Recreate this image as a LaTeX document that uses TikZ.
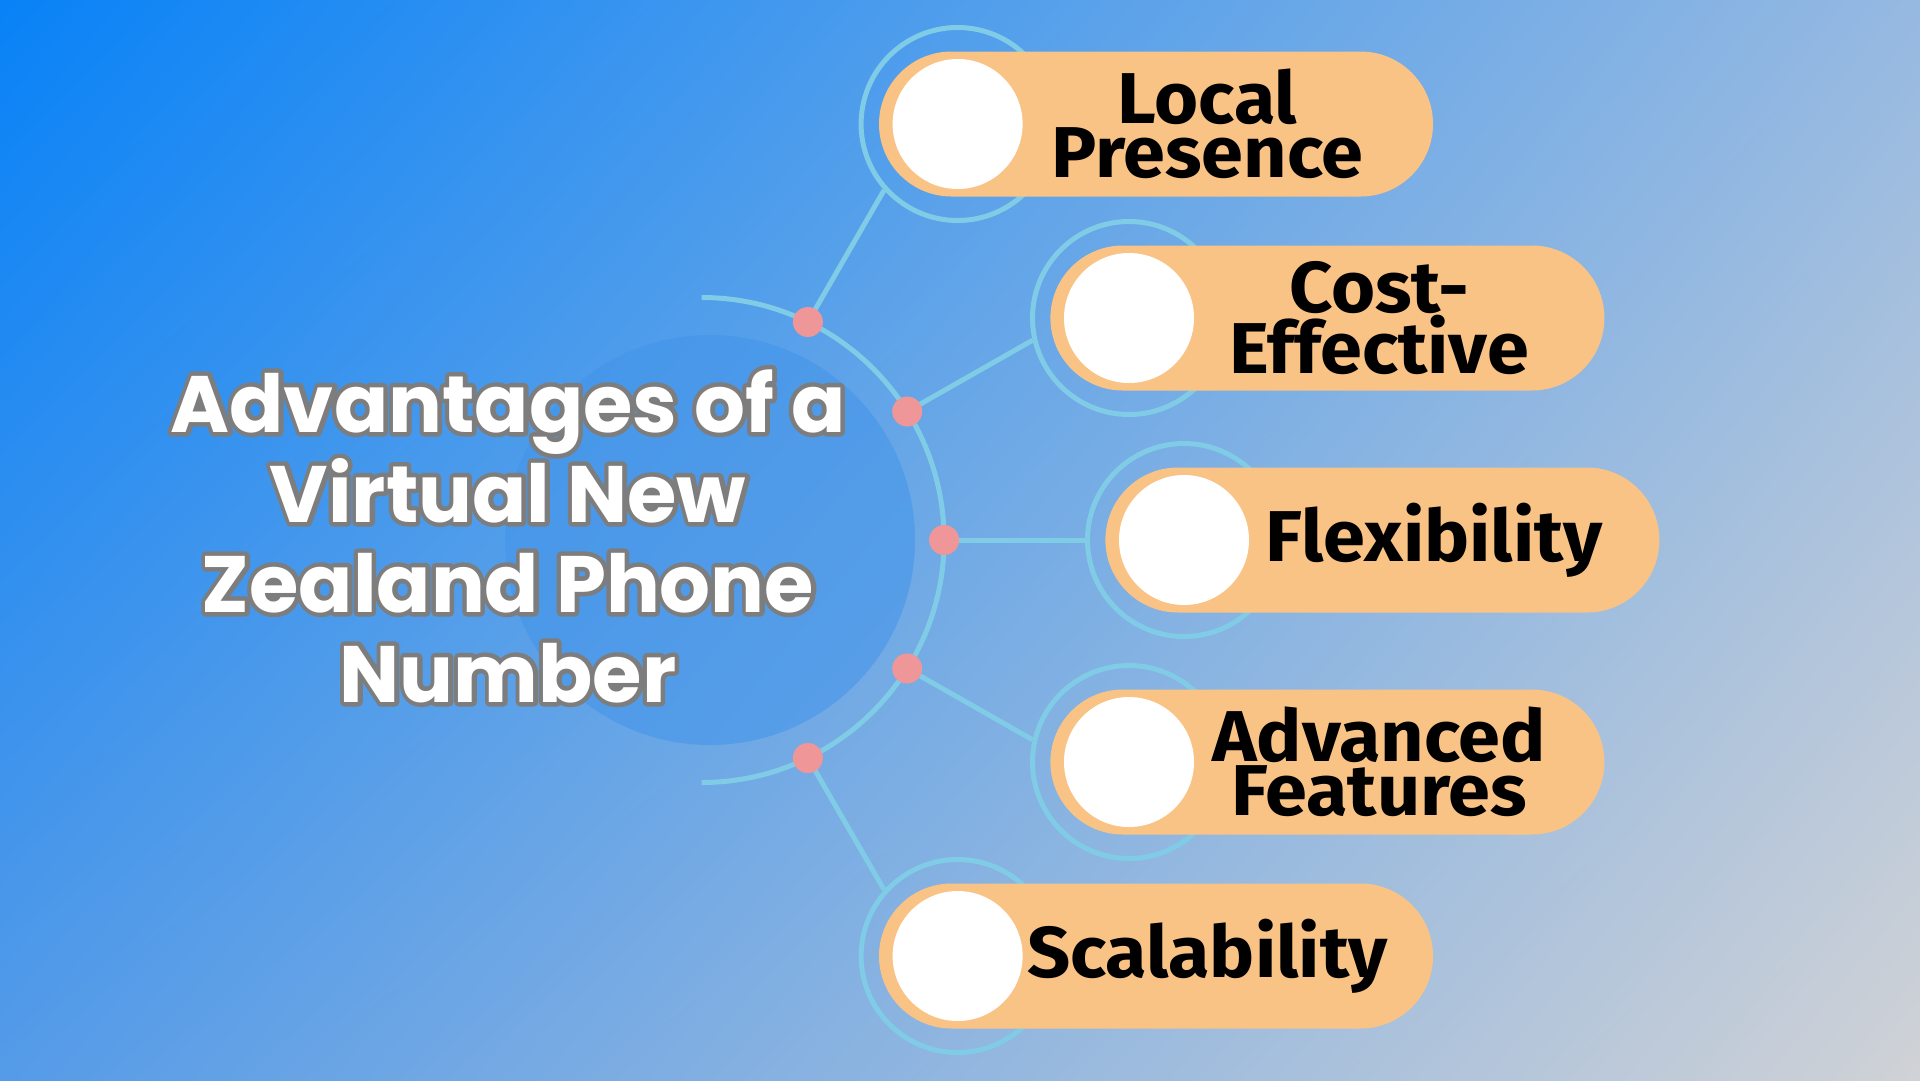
\documentclass[tikz,border=0pt]{standalone}
\usepackage{fontspec}
\usetikzlibrary{shadings}
\newfontfamily\titlefont{Poppins}
\newfontfamily\labelfont{Fira Sans}[FakeStretch=1.05]
\definecolor{bgTL}{RGB}{8,130,247}
\definecolor{bgTR}{RGB}{150,185,225}
\definecolor{bgBL}{RGB}{85,155,232}
\definecolor{bgBR}{RGB}{208,210,214}
\definecolor{discC}{RGB}{66,148,234}
\definecolor{lineC}{RGB}{128,204,230}
\definecolor{pillC}{RGB}{250,195,134}
\definecolor{dotC}{RGB}{238,150,152}
\definecolor{outG}{RGB}{125,125,125}
\newcommand{\strokeon}{\special{pdf:literal direct 1 j 1 J 9 w 2 Tr}}
\tikzset{
  conn/.style={draw=lineC, line width=5pt},
  ringbox/.style={circle, draw=lineC, line width=5pt, minimum size=193pt, inner sep=0pt},
  pillbox/.style={fill=pillC, rounded corners=72.5pt, minimum width=554pt, minimum height=145pt, inner sep=0pt},
  whitedot/.style={circle, fill=white, minimum size=130pt, inner sep=0pt},
  pinkdot/.style={circle, fill=dotC, minimum size=30pt, inner sep=0pt},
  labeltxt/.style={font=\labelfont\bfseries\fontsize{72}{54}\selectfont, text=black, align=center, inner sep=0pt},
  titletxt/.style={font=\titlefont\bfseries\fontsize{80}{90}\selectfont, align=center, inner sep=0pt},
}
\begin{document}
\begin{tikzpicture}[x=1pt,y=-1pt]
\useasboundingbox (0,0) rectangle (1920,1080);
\shade[upper left=bgTL, upper right=bgTR, lower left=bgBL, lower right=bgBR] (0,0) rectangle (1920,1080);
% disc behind title
\fill[discC, opacity=0.55] (710,540) circle[radius=205];
% arc
\draw[conn] (701.6,297.5) arc[start angle=-90, end angle=90, radius=242.5];
% dot coordinates
\coordinate (d1) at (807.9,322);
\coordinate (d2) at (907.2,411.5);
\coordinate (d3) at (944.1,540);
\coordinate (d4) at (907.2,668.5);
\coordinate (d5) at (807.9,758);
% rings
\node[ringbox] (r1) at (957.6,124) {};
\node[ringbox] (r2) at (1129,318) {};
\node[ringbox] (r3) at (1184,540) {};
\node[ringbox] (r4) at (1129,762) {};
\node[ringbox] (r5) at (957.6,956) {};
% connectors
\draw[conn] (d1) -- (r1.222);
\draw[conn] (d2) -- (r2.193);
\draw[conn] (d3) -- (r3.180);
\draw[conn] (d4) -- (r4.167);
\draw[conn] (d5) -- (r5.138);
% pills
\node[pillbox] (p1) at (1156,124) {};
\node[pillbox] (p2) at (1327.4,318) {};
\node[pillbox] (p3) at (1382.4,540) {};
\node[pillbox] (p4) at (1327.4,762) {};
\node[pillbox] (p5) at (1156,956) {};
% white circles
\node[whitedot] (w1) at (957.6,124) {};
\node[whitedot] (w2) at (1129,318) {};
\node[whitedot] (w3) at (1184,540) {};
\node[whitedot] (w4) at (1129,762) {};
\node[whitedot] (w5) at (957.6,956) {};
% pink dots
\node[pinkdot] (k1) at (d1) {};
\node[pinkdot] (k2) at (d2) {};
\node[pinkdot] (k3) at (d3) {};
\node[pinkdot] (k4) at (d4) {};
\node[pinkdot] (k5) at (d5) {};
% labels
\node[labeltxt] (t1) at (1207.6,124) {Local\\Presence};
\node[labeltxt] (t2) at (1379,318) {Cost-\\Effective};
\node[labeltxt] (t3) at (1434,540) {Flexibility};
\node[labeltxt] (t4) at (1379,762) {Advanced\\Features};
\node[labeltxt] (t5) at (1207.6,956) {Scalability};
% title with outline (stroked layer under a filled layer)
\node[titletxt, text=outG] (tout) at (508,536) {\strokeon Advantages of a\\\strokeon Virtual New\\\strokeon Zealand Phone\\\strokeon Number};
\node[titletxt, text=white] (title) at (508,536) {Advantages of a\\Virtual New\\Zealand Phone\\Number};
\end{tikzpicture}
\end{document}
